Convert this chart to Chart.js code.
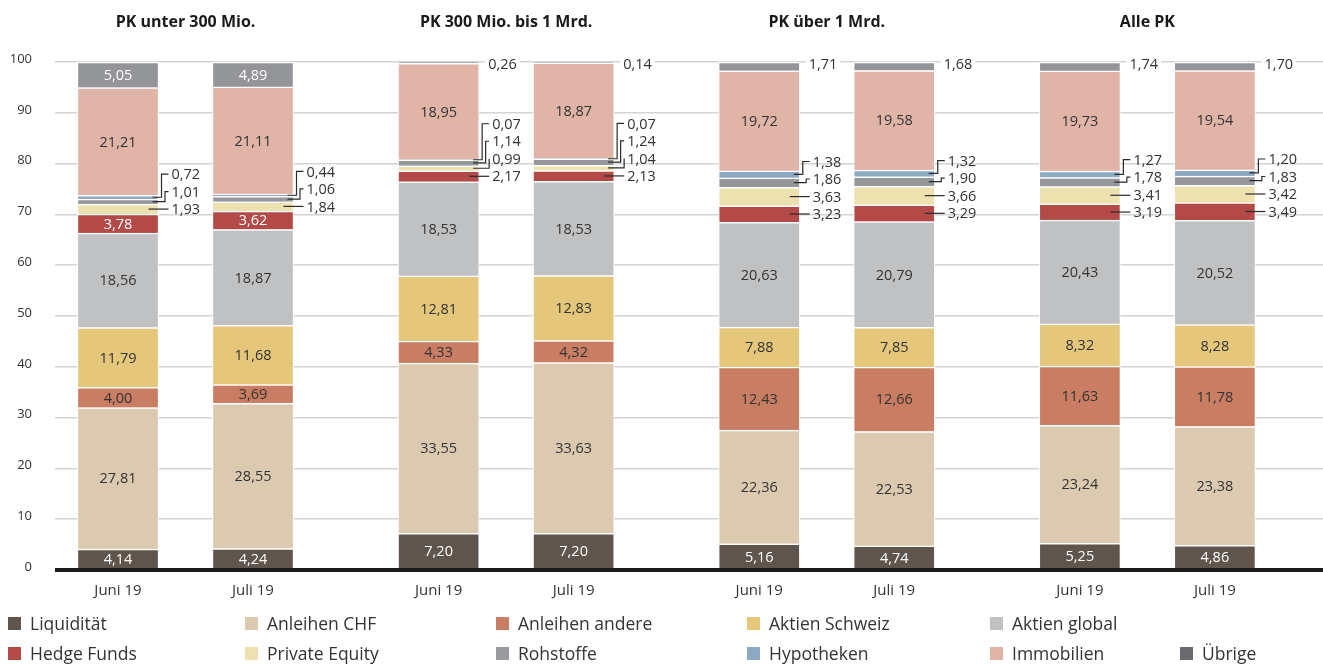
<!DOCTYPE html>
<html><head><meta charset="utf-8">
<script src="https://cdn.jsdelivr.net/npm/chart.js@4/dist/chart.umd.min.js"></script>
<style>
html,body{margin:0;padding:0;background:#fff;}
#wrap{position:relative;width:1323px;height:664px;overflow:hidden;}
#legend{position:absolute;left:0;top:0;width:1323px;height:664px;pointer-events:none;font-family:'Open Sans',sans-serif;font-size:17.5px;color:#333;}
.li{position:absolute;display:flex;align-items:center;white-space:nowrap;height:20px;line-height:20px;}
.li .b{width:13px;height:13px;margin-right:9px;display:inline-block;}
</style></head>
<body><div id="wrap"><canvas id="c"></canvas><div id="legend"></div></div>
<script>
// ---- data ----
const groups = ['PK unter 300 Mio.', 'PK 300 Mio. bis 1 Mrd.', 'PK über 1 Mrd.', 'Alle PK'];
const periods = ['Juni 19', 'Juli 19'];
const seriesNames = ['Liquidität','Anleihen CHF','Anleihen andere','Aktien Schweiz','Aktien global','Hedge Funds','Private Equity','Rohstoffe','Hypotheken','Immobilien','Übrige'];
// order of values: group1 Juni, group1 Juli, group2 Juni, group2 Juli, ...
const liquiditaet    = [4.14, 4.24, 7.20, 7.20, 5.16, 4.74, 5.25, 4.86];
const anleihenCHF    = [27.81, 28.55, 33.55, 33.63, 22.36, 22.53, 23.24, 23.38];
const anleihenAndere = [4.00, 3.69, 4.33, 4.32, 12.43, 12.66, 11.63, 11.78];
const aktienSchweiz  = [11.79, 11.68, 12.81, 12.83, 7.88, 7.85, 8.32, 8.28];
const aktienGlobal   = [18.56, 18.87, 18.53, 18.53, 20.63, 20.79, 20.43, 20.52];
const hedgeFunds     = [3.78, 3.62, 2.17, 2.13, 3.23, 3.29, 3.19, 3.49];
const privateEquity  = [1.93, 1.84, 0.99, 1.04, 3.63, 3.66, 3.41, 3.42];
const rohstoffe      = [1.01, 1.06, 1.14, 1.24, 1.86, 1.90, 1.78, 1.83];
const hypotheken     = [0.72, 0.44, 0.07, 0.07, 1.38, 1.32, 1.27, 1.20];
const immobilien     = [21.21, 21.11, 18.95, 18.87, 19.72, 19.58, 19.73, 19.54];
const uebrige        = [5.05, 4.89, 0.26, 0.14, 1.71, 1.68, 1.74, 1.70];
const yTicks = [0,10,20,30,40,50,60,70,80,90,100];

const seriesValues = [liquiditaet, anleihenCHF, anleihenAndere, aktienSchweiz, aktienGlobal, hedgeFunds, privateEquity, rohstoffe, hypotheken, immobilien, uebrige];

// ---- styles / layout ----
const barColors    = ['#5f554d','#dccab0','#c97d62','#e4c77a','#c0c1c3','#b44a48','#ede1b0','#96979a','#8eaac3','#e0b5a8','#949599'];
const legendColors = ['#5f554d','#dccab0','#c97d62','#e4c77a','#c0c1c3','#b44a48','#ede1b0','#9a9b9e','#8eaac3','#e0b5a8','#6b6b6f'];
const whiteText    = [true,false,false,false,false,true,false,false,false,false,true];
const insideMin = [3.5, 3.5, 3.7, 3.7];   // per group: smaller segments get an outside label
const LABEL_GAP = 17.5;
const GROUP_STRIDE = 2.375;
const X_MIN = -0.4667, X_MAX = X_MIN + 1268/135;

const xPos = [];
groups.forEach((g, gi) => periods.forEach((p, pi) => xPos.push(gi * GROUP_STRIDE + pi)));

const fmt = v => v.toFixed(2).replace('.', ',');

const datasets = seriesNames.map((name, si) => ({
  label: name,
  data: seriesValues[si].map((v, i) => ({x: xPos[i], y: v})),
  backgroundColor: barColors[si],
  borderColor: '#ffffff',
  borderWidth: {top: 1.5, left: 1, right: 1, bottom: 0},
  borderSkipped: false,
  barThickness: 81
}));

const annot = {
  id: 'annot',
  afterDatasetsDraw(chart) {
    const {ctx, chartArea: ca, scales: {x, y}} = chart;
    ctx.save();
    // baseline
    const y0 = y.getPixelForValue(0);
    ctx.strokeStyle = '#1b1b1b'; ctx.lineWidth = 4;
    ctx.beginPath(); ctx.moveTo(ca.left, y0); ctx.lineTo(ca.right, y0); ctx.stroke();
    // group titles
    ctx.fillStyle = '#1a1a1a'; ctx.font = 'bold 16px "Open Sans"';
    ctx.textAlign = 'center'; ctx.textBaseline = 'middle';
    groups.forEach((g, gi) => {
      const a = x.getPixelForValue(xPos[gi * periods.length]);
      const b = x.getPixelForValue(xPos[gi * periods.length + periods.length - 1]);
      ctx.fillText(g, (a + b) / 2, 22);
    });
    // values
    ctx.font = '14.5px "Open Sans"';
    const nS = seriesNames.length;
    xPos.forEach((xp, i) => {
      const gi = Math.floor(i / periods.length);
      const outside = [];
      let right = 0, topOut = null;
      for (let si = 0; si < nS; si++) {
        const el = chart.getDatasetMeta(si).data[i];
        const v = seriesValues[si][i];
        const mid = (el.y + el.base) / 2;
        right = el.x + el.width / 2;
        if (v >= insideMin[gi]) {
          ctx.fillStyle = whiteText[si] ? '#ffffff' : '#333333';
          ctx.textAlign = 'center';
          ctx.fillText(fmt(v), el.x, mid + 1);
        } else if (si === nS - 1) {
          topOut = {v, top: el.y};
        } else {
          outside.push({si, v, mid});
        }
      }
      // top outside label on the 100 line
      if (topOut) {
        const lx = right + 9;
        const w = ctx.measureText(fmt(topOut.v)).width;
        ctx.fillStyle = '#ffffff';
        ctx.fillRect(lx - 3, topOut.top - 7, w + 6, 16);
        ctx.fillStyle = '#333333'; ctx.textAlign = 'left';
        ctx.fillText(fmt(topOut.v), lx, topOut.top + 3);
      }
      // stacked outside labels
      let prev = Infinity;
      outside.forEach(o => { o.ly = Math.min(o.mid, prev - LABEL_GAP); prev = o.ly; });
      const lx = right + 13;
      const moved = outside.filter(o => Math.abs(o.ly - o.mid) > 1.5).reverse();
      ctx.strokeStyle = '#2a2a2a'; ctx.lineWidth = 1.2;
      outside.forEach(o => {
        ctx.beginPath();
        const k = moved.indexOf(o);
        if (k < 0) {
          ctx.moveTo(right - 10, o.mid); ctx.lineTo(lx - 3, o.mid);
        } else {
          const ex = right + 3 + 3.5 * k;
          ctx.moveTo(right - 6, o.mid); ctx.lineTo(ex, o.mid); ctx.lineTo(ex, o.ly); ctx.lineTo(lx - 3, o.ly);
        }
        ctx.stroke();
        ctx.fillStyle = '#333333'; ctx.textAlign = 'left';
        ctx.fillText(fmt(o.v), lx, o.ly + 1);
      });
    });
    ctx.restore();
  }
};

new Chart(document.getElementById('c'), {
  type: 'bar',
  data: {datasets},
  plugins: [annot],
  options: {
    responsive: true, maintainAspectRatio: false, animation: false,
    layout: {padding: {top: 62, left: 0, right: 0, bottom: 0}},
    plugins: {legend: {display: false}, tooltip: {enabled: false}},
    scales: {
      x: {
        type: 'linear', stacked: true, min: X_MIN, max: X_MAX, offset: false,
        grid: {display: false}, border: {display: false},
        afterBuildTicks: s => { s.ticks = xPos.map(v => ({value: v})); },
        afterFit: s => { s.height = 94; },
        ticks: {autoSkip: false, maxRotation: 0, padding: 4, color: '#333',
          font: {family: 'Open Sans', size: 15},
          callback: (v, idx) => periods[idx % periods.length]}
      },
      y: {
        stacked: true, min: 0, max: 100,
        afterBuildTicks: s => { s.ticks = yTicks.map(v => ({value: v})); },
        afterFit: s => { s.width = 55; },
        ticks: {padding: 23, labelOffset: -3, color: '#333', font: {family: 'Open Sans', size: 13}},
        grid: {color: '#d4d4d4', lineWidth: 1.5, drawTicks: false},
        border: {display: false}
      }
    }
  }
});

// HTML legend: first row 5 entries, second row 6 entries
const legendCols = [8, 245, 496, 747, 990, 1180];
const legendRows = [623, 653];
const legendRowStart = [0, 5];
const lg = document.getElementById('legend');
seriesNames.forEach((n, si) => {
  const r = si < legendRowStart[1] ? 0 : 1;
  const c = si - legendRowStart[r];
  const d = document.createElement('div');
  d.className = 'li';
  d.style.left = legendCols[c] + 'px';
  d.style.top = (legendRows[r] - 10) + 'px';
  d.innerHTML = '<span class="b" style="background:' + legendColors[si] + '"></span><span>' + n + '</span>';
  lg.appendChild(d);
});
</script>
</body></html>
